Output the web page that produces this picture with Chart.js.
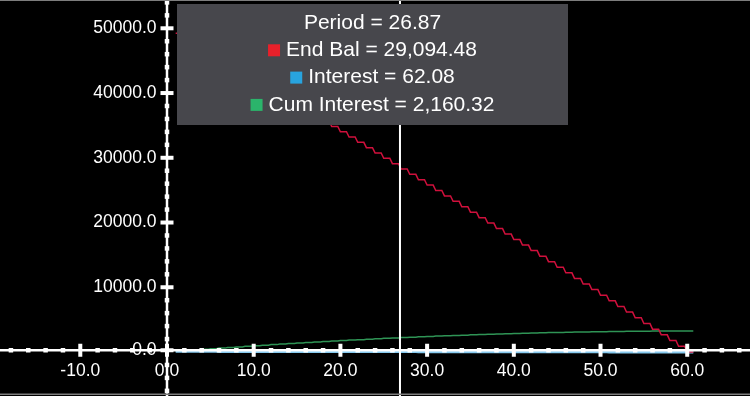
<!DOCTYPE html>
<html>
<head>
<meta charset="utf-8">
<script src="https://cdn.jsdelivr.net/npm/chart.js@4.4.1/dist/chart.umd.min.js"></script>
<style>
  html, body { margin: 0; padding: 0; background: #000; overflow: hidden; }
  canvas { display: block; }
</style>
</head>
<body>
<canvas id="myChart" width="750" height="396"></canvas>
<script>
// Loan schedule (one value per period)
const periods = [
  1, 2, 3, 4, 5, 6, 7, 8, 9, 10, 11, 12, 13, 14, 15, 16, 17, 18, 19, 20,
  21, 22, 23, 24, 25, 26, 27, 28, 29, 30, 31, 32, 33, 34, 35, 36, 37, 38, 39, 40,
  41, 42, 43, 44, 45, 46, 47, 48, 49, 50, 51, 52, 53, 54, 55, 56, 57, 58, 59, 60
];
const endBal = [
  49216.8, 48431.9, 47645.5, 46857.4, 46067.6, 45276.2, 44483.1, 43688.4, 42892.0, 42094.0,
  41294.3, 40493.0, 39690.0, 38885.3, 38078.9, 37270.9, 36461.1, 35649.7, 34836.7, 34021.9,
  33205.4, 32387.2, 31567.3, 30745.7, 29922.4, 29094.48, 28270.6, 27442.1, 26611.9, 25780.0,
  24946.4, 24111.0, 23273.8, 22435.0, 21594.4, 20752.2, 19908.1, 19062.2, 18214.6, 17365.2,
  16514.1, 15661.2, 14806.5, 13950.0, 13091.9, 12231.9, 11370.1, 10506.5, 9641.2, 8774.0,
  7905.1, 7034.4, 6161.8, 5287.4, 4411.2, 3533.3, 2653.4, 1771.8, 888.3, 0
];
const interest = [
  104.17, 102.53, 100.90, 99.26, 97.62, 95.97, 94.33, 92.67, 91.02, 89.36,
  87.70, 86.03, 84.36, 82.69, 81.01, 79.33, 77.65, 75.96, 74.27, 72.58,
  70.88, 69.18, 67.47, 65.77, 64.05, 62.08, 60.62, 58.90, 57.17, 55.44,
  53.71, 51.97, 50.23, 48.49, 46.74, 44.99, 43.23, 41.48, 39.71, 37.95,
  36.18, 34.40, 32.63, 30.85, 29.06, 27.27, 25.48, 23.69, 21.89, 20.09,
  18.28, 16.47, 14.66, 12.84, 11.02, 9.19, 7.36, 5.53, 3.69, 1.85
];
const cumInterest = [
  104.17, 206.6, 307.6, 406.9, 504.5, 600.4, 694.7, 787.4, 878.3, 967.7,
  1055.4, 1141.4, 1225.8, 1308.5, 1389.5, 1468.8, 1546.4, 1622.4, 1696.7, 1769.3,
  1840.2, 1909.3, 1976.8, 2042.6, 2106.7, 2160.32, 2229.6, 2288.5, 2345.6, 2401.1,
  2454.9, 2506.8, 2557.0, 2605.6, 2652.4, 2697.5, 2740.8, 2782.3, 2822.0, 2860.0,
  2896.3, 2930.7, 2963.4, 2994.3, 3023.6, 3050.9, 3076.5, 3100.3, 3122.3, 3142.5,
  3161.0, 3177.6, 3192.4, 3205.4, 3216.6, 3226.0, 3233.5, 3239.3, 3243.0, 3244.9
];
const seriesLabels = ["End Bal", "Interest", "Cum Interest"];
const swatchColors = ["#e8202a", "#28a4df", "#2bb46b"];

// axis ticks: a dot every minor step, a labelled tick every major step
const xTicks = { minor: 2, major: 10 };
const yTicks = { minor: 2000, major: 10000 };

const cursorPeriod = 26.87;
const cursorIndex = periods.indexOf(Math.floor(cursorPeriod));

// each period value is held for part of the period, then drops to the next
const holdFrac = 0.7;
const toSteps = (vals) =>
  periods.flatMap((p, i) => [{ x: p, y: vals[i] }, { x: p + holdFrac, y: vals[i] }]);

const FONT = '"Liberation Sans", Arial, Helvetica, sans-serif';
const AXIS_SHIFT = -1.75; // the horizontal axis line sits just above the zero line

const fmt = (v) =>
  v.toLocaleString("en-US", { minimumFractionDigits: 2, maximumFractionDigits: 2 });

const stepTicks = (step) => (scale) => {
  const out = [];
  for (let v = Math.ceil(scale.min / step) * step; v <= scale.max; v += step) out.push({ value: v });
  scale.ticks = out;
};

// Axes crossing at zero, dotted ticks, crosshair and info box
const crossAxes = {
  id: "crossAxes",
  beforeDraw(chart) {
    const { ctx, width, height } = chart;
    ctx.save();
    ctx.fillStyle = "#000";
    ctx.fillRect(0, 0, width, height);
    ctx.restore();
  },
  afterDatasetsDraw(chart) {
    const { ctx, chartArea } = chart;
    const { x, y } = chart.scales;
    const x0 = x.getPixelForValue(0);
    const y0 = y.getPixelForValue(0);
    const ya = y0 + AXIS_SHIFT;

    ctx.save();
    ctx.fillStyle = "#fff";
    ctx.fillRect(chartArea.left, ya - 1.25, chartArea.width, 2.5);
    ctx.fillRect(x0 - 1.25, chartArea.top, 2.5, chartArea.height);

    x.ticks.forEach((t) => {
      const px = x.getPixelForValue(t.value);
      if (t.value % xTicks.major === 0) ctx.fillRect(px - 2, ya - 6.5, 4, 13);
      else ctx.fillRect(px - 2.25, ya - 2.25, 4.5, 4.5);
    });
    y.ticks.forEach((t) => {
      const py = t.value === 0 ? ya : y.getPixelForValue(t.value);
      if (t.value % yTicks.major === 0) ctx.fillRect(x0 - 6.5, py - 2, 13, 4);
      else ctx.fillRect(x0 - 2.25, py - 2.25, 4.5, 4.5);
    });

    ctx.font = "17.5px " + FONT;
    ctx.textBaseline = "middle";
    ctx.textAlign = "center";
    x.ticks.filter((t) => t.value % xTicks.major === 0).forEach((t) => {
      ctx.fillText(t.value.toFixed(1), x.getPixelForValue(t.value), ya + 21);
    });
    ctx.textAlign = "right";
    y.ticks.filter((t) => t.value % yTicks.major === 0).forEach((t) => {
      const py = t.value === 0 ? ya : y.getPixelForValue(t.value);
      ctx.fillText(t.value.toFixed(1), x0 - 10.5, py);
    });

    // crosshair
    const cx = x.getPixelForValue(cursorPeriod);
    ctx.fillRect(cx - 1, chartArea.top, 2, chartArea.height);
    ctx.restore();
  },
  afterDraw(chart) {
    const { ctx, width } = chart;
    const box = { left: 177, top: 4, width: 391, height: 121 };
    const cxText = box.left + box.width / 2;

    ctx.save();
    ctx.fillStyle = "#47474c";
    ctx.fillRect(box.left, box.top, box.width, box.height);

    ctx.font = "21px " + FONT;
    ctx.textBaseline = "middle";
    ctx.fillStyle = "#fff";
    ctx.textAlign = "center";
    ctx.fillText("Period = " + cursorPeriod.toFixed(2), cxText, 23);

    const values = [endBal, interest, cumInterest];
    ctx.textAlign = "left";
    values.forEach((vals, i) => {
      const text = seriesLabels[i] + " = " + fmt(vals[cursorIndex]);
      const w = ctx.measureText(text).width;
      const sq = 12, gap = 6;
      const start = cxText - (sq + gap + w) / 2;
      const ly = 50.3 + i * 27.3;
      ctx.fillStyle = swatchColors[i];
      ctx.fillRect(start, ly - sq / 2, sq, sq);
      ctx.fillStyle = "#fff";
      ctx.fillText(text, start + sq + gap, ly);
    });

    // frame
    ctx.fillStyle = "#7d7d7d";
    ctx.fillRect(0, 0, width, 1);
    ctx.fillRect(0, 393.5, width, 1.5);
    ctx.restore();
  }
};

new Chart(document.getElementById("myChart"), {
  type: "line",
  data: {
    datasets: [
      {
        label: seriesLabels[0],
        data: toSteps(endBal),
        borderColor: "#d0103c",
        borderWidth: 1.5,
      },
      {
        label: seriesLabels[1],
        data: toSteps(interest),
        borderColor: "#86c9ee",
        borderWidth: 3,
      },
      {
        label: seriesLabels[2],
        data: toSteps(cumInterest),
        borderColor: "#2f9455",
        borderWidth: 1.5,
      },
    ],
  },
  options: {
    responsive: false,
    animation: false,
    layout: { padding: 0, autoPadding: false },
    elements: { point: { radius: 0 }, line: { tension: 0 } },
    plugins: { legend: { display: false }, tooltip: { enabled: false } },
    scales: {
      x: {
        type: "linear",
        min: -19.26,
        max: 67.24,
        afterBuildTicks: stepTicks(xTicks.minor),
        ticks: { display: false },
        grid: { display: false, drawTicks: false },
        border: { display: false },
      },
      y: {
        type: "linear",
        min: -6796,
        max: 54371,
        afterBuildTicks: stepTicks(yTicks.minor),
        ticks: { display: false },
        grid: { display: false, drawTicks: false },
        border: { display: false },
      },
    },
  },
  plugins: [crossAxes],
});
</script>
</body>
</html>
